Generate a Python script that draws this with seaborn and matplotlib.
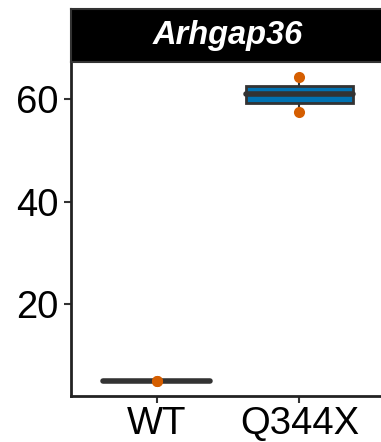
import numpy as np
import pandas as pd
import matplotlib
matplotlib.use("Agg")
import matplotlib.pyplot as plt
import seaborn as sns

# ---- data ----
genotypes = ["WT", "WT", "Q344X", "Q344X"]
expression = [5.0, 5.0, 57.5, 64.4]
order = ["WT", "Q344X"]
fill_colors = ["#999999", "#0072B2"]
title = "Arhgap36"
yticks = [20, 40, 60]

df = pd.DataFrame({"genotype": genotypes, "value": expression})

sns.set_theme(style="white")
plt.rcParams["font.family"] = ["Liberation Sans", "DejaVu Sans"]

fig = plt.figure(figsize=(3.81, 4.42), dpi=100)
ax = fig.add_axes([71 / 381, 46 / 442, 314 / 381, 334 / 442])

sns.boxplot(data=df, x="genotype", y="value", order=order, hue="genotype",
            hue_order=order, palette=fill_colors, legend=False, width=0.75,
            linecolor="#333333", linewidth=2, showcaps=False, fliersize=0,
            saturation=1, whis=10,
            medianprops=dict(linewidth=4, color="#333333", solid_capstyle="round"),
            whiskerprops=dict(linewidth=1.5, color="#333333"),
            ax=ax)
sns.stripplot(data=df, x="genotype", y="value", order=order, color="#D55E00",
              size=8, jitter=False, ax=ax, zorder=5)

ax.set_xlim(-0.6, 1.6)
ax.set_ylim(2.0, 67.3)
ax.set_yticks(yticks)
ax.set_xlabel("")
ax.set_ylabel("")
for s in ["top", "right"]:
    ax.spines[s].set_visible(False)
for s in ["left", "bottom"]:
    ax.spines[s].set_color("#222222")
    ax.spines[s].set_linewidth(2)
ax.tick_params(axis="both", which="both", length=5, width=1.5, color="#333333",
               labelsize=27.5, labelcolor="black", pad=4, left=True, bottom=True)
ax.tick_params(axis="x", pad=2)
ax.set_facecolor("white")

# strip (facet title)
sax = fig.add_axes([71 / 381, 380 / 442, 314 / 381, 52.5 / 442])
sax.set_facecolor("black")
sax.set_xticks([])
sax.set_yticks([])
for s in sax.spines.values():
    s.set_color("#333333")
    s.set_linewidth(1.5)
sax.text((228 - 71) / 314, 0.5, title, color="white", fontsize=23.5, fontweight="bold",
         fontstyle="italic", ha="center", va="center", transform=sax.transAxes)

fig.savefig("out.png", dpi=100)
